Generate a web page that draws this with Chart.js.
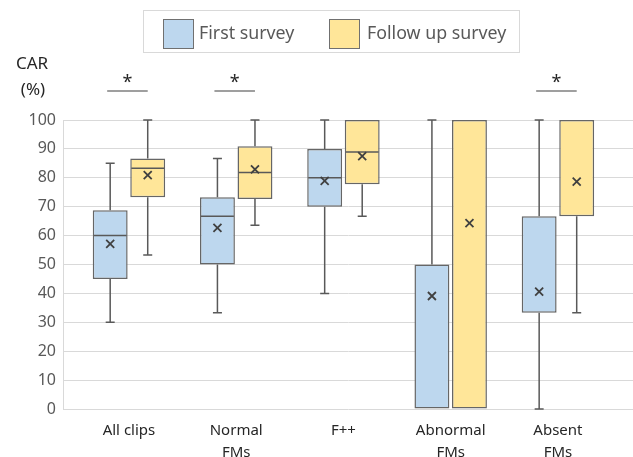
<!DOCTYPE html>
<html>
<head>
<meta charset="utf-8">
<script src="https://cdn.jsdelivr.net/npm/chart.js@4/dist/chart.umd.min.js"></script>
<style>
  html, body { margin: 0; padding: 0; background: #fff; }
  #wrap { position: relative; width: 633px; height: 457px; font-family: "Noto Sans", sans-serif; }
  #legend { position: absolute; left: 143px; top: 10px; width: 375px; height: 41px; border: 1px solid #d9d9d9; }
  .sw { position: absolute; top: 8px; width: 29px; height: 28px; border: 1px solid #707070; }
  .lt { position: absolute; top: 7px; font-size: 17.8px; line-height: 28px; color: #595959; white-space: nowrap; }
</style>
</head>
<body>
<div id="wrap">
  <canvas id="myChart" width="633" height="457"></canvas>
  <div id="legend">
    <div class="sw" style="left:19px;background:#bdd7ee"></div>
    <div class="lt" style="left:55px">First survey</div>
    <div class="sw" style="left:185px;background:#ffe699"></div>
    <div class="lt" style="left:223px">Follow up survey</div>
  </div>
</div>
<script>
// categories (multi-line labels)
const categories = [['All clips'], ['Normal', 'FMs'], ['F++'], ['Abnormal', 'FMs'], ['Absent', 'FMs']];
const seriesNames = ['First survey', 'Follow up survey'];

// first survey box stats
const firstMin    = [30, 33.3, 40, 0, 0];
const firstQ1     = [45, 50, 70, 0, 33.3];
const firstMedian = [60, 66.7, 80, 0, 33.3];
const firstQ3     = [68.8, 73.3, 90, 50, 66.7];
const firstMax    = [85, 86.7, 100, 100, 100];
const firstMean   = [57.1, 62.7, 78.9, 39.1, 40.6];

// follow up survey box stats
const followMin    = [53.3, 63.6, 66.7, 0, 33.3];
const followQ1     = [73.3, 72.7, 77.8, 0, 66.7];
const followMedian = [83.3, 81.8, 88.9, 100, 100];
const followQ3     = [86.7, 90.9, 100, 100, 100];
const followMax    = [100, 100, 100, 100, 100];
const followMean   = [80.9, 82.9, 87.5, 64.3, 78.7];

// * marks
const significant = [true, true, false, false, true];

var dark = '#595959';
var font = '"Noto Sans", sans-serif';

function boxData(q1, q3) {
  return q1.map(function (v, i) { return { x: i, y: [v, q3[i]] }; });
}

const data = {
  datasets: [
    {
      label: seriesNames[0],
      data: boxData(firstQ1, firstQ3),
      backgroundColor: '#bdd7ee',
      borderColor: '#666666',
      borderWidth: 1.5,
      borderSkipped: false,
      stats: { min: firstMin, median: firstMedian, max: firstMax, mean: firstMean },
    },
    {
      label: seriesNames[1],
      data: boxData(followQ1, followQ3),
      backgroundColor: '#ffe699',
      borderColor: '#666666',
      borderWidth: 1.5,
      borderSkipped: false,
      stats: { min: followMin, median: followMedian, max: followMax, mean: followMean },
    },
  ],
};

// whiskers, medians and mean crosses
const boxWhiskers = {
  id: 'boxWhiskers',
  afterDatasetsDraw(chart) {
    const ctx = chart.ctx;
    const y = chart.scales.y;
    ctx.save();
    chart.data.datasets.forEach(function (ds, di) {
      const meta = chart.getDatasetMeta(di);
      const st = ds.stats;
      meta.data.forEach(function (bar, i) {
        const x = bar.x;
        const half = bar.width / 2;
        const q1 = ds.data[i].y[0], q3 = ds.data[i].y[1];
        ctx.strokeStyle = dark;
        ctx.lineWidth = 1.5;
        ctx.beginPath();
        if (st.max[i] > q3) {
          ctx.moveTo(x, y.getPixelForValue(q3));
          ctx.lineTo(x, y.getPixelForValue(st.max[i]));
          ctx.moveTo(x - 4.5, y.getPixelForValue(st.max[i]));
          ctx.lineTo(x + 4.5, y.getPixelForValue(st.max[i]));
        }
        if (st.min[i] < q1) {
          ctx.moveTo(x, y.getPixelForValue(q1));
          ctx.lineTo(x, y.getPixelForValue(st.min[i]));
          ctx.moveTo(x - 4.5, y.getPixelForValue(st.min[i]));
          ctx.lineTo(x + 4.5, y.getPixelForValue(st.min[i]));
        }
        // median (hidden by the box edge when it equals a quartile)
        if (st.median[i] > q1 && st.median[i] < q3) {
          ctx.moveTo(x - half + 1, y.getPixelForValue(st.median[i]));
          ctx.lineTo(x + half - 1, y.getPixelForValue(st.median[i]));
        }
        ctx.stroke();
        // mean cross
        const my = y.getPixelForValue(st.mean[i]);
        ctx.strokeStyle = '#404040';
        ctx.lineWidth = 1.8;
        ctx.beginPath();
        ctx.moveTo(x - 4, my - 4); ctx.lineTo(x + 4, my + 4);
        ctx.moveTo(x + 4, my - 4); ctx.lineTo(x - 4, my + 4);
        ctx.stroke();
      });
    });
    ctx.restore();
  }
};

// axis title and significance marks
const extras = {
  id: 'extras',
  afterDraw(chart) {
    const ctx = chart.ctx;
    const top = chart.chartArea.top;
    ctx.save();
    ctx.fillStyle = '#262626';
    ctx.font = '17px ' + font;
    ctx.textAlign = 'center';
    ctx.textBaseline = 'middle';
    ctx.fillText('CAR', 32, top - 56);
    ctx.fillText('(%)', 33, top - 30);

    const m0 = chart.getDatasetMeta(0), m1 = chart.getDatasetMeta(1);
    significant.forEach(function (s, i) {
      if (!s) return;
      const x1 = m0.data[i].x - 3, x2 = m1.data[i].x;
      ctx.strokeStyle = '#7f7f7f';
      ctx.lineWidth = 1.3;
      ctx.beginPath();
      ctx.moveTo(x1, top - 29);
      ctx.lineTo(x2, top - 29);
      ctx.stroke();
      ctx.fillStyle = '#262626';
      ctx.font = '18px ' + font;
      ctx.fillText('*', (x1 + x2) / 2, top - 37);
    });
    ctx.restore();
  }
};

const config = {
  type: 'bar',
  data: data,
  plugins: [boxWhiskers, extras],
  options: {
    responsive: false,
    animation: false,
    layout: { padding: { top: 120, left: 0, right: 0, bottom: 0 } },
    datasets: { bar: { categoryPercentage: 0.7, barPercentage: 0.93 } },
    plugins: {
      legend: { display: false },
      tooltip: { enabled: false },
    },
    scales: {
      x: {
        type: 'linear',
        offset: false,
        min: -0.615,
        max: 4.7,
        grid: { display: false, drawTicks: false, offset: false },
        border: { display: false },
        afterBuildTicks: function (s) {
          s.ticks = categories.map(function (c, i) { return { value: i }; });
        },
        afterFit: function (s) { s.height = 48; },
        ticks: {
          autoSkip: false,
          maxRotation: 0,
          padding: 10,
          color: '#262626',
          font: { family: font, size: 15, lineHeight: 1.5 },
          callback: function (value) { return categories[value]; },
        },
      },
      y: {
        min: 0,
        max: 100,
        grid: { color: '#d9d9d9', drawTicks: false },
        border: { color: '#d9d9d9' },
        afterFit: function (s) { s.width = 63; },
        ticks: {
          stepSize: 10,
          padding: 7,
          color: dark,
          font: { family: font, size: 16 },
        },
      },
    },
  },
};

var myChart = new Chart(document.getElementById('myChart'), config);
</script>
</body>
</html>
